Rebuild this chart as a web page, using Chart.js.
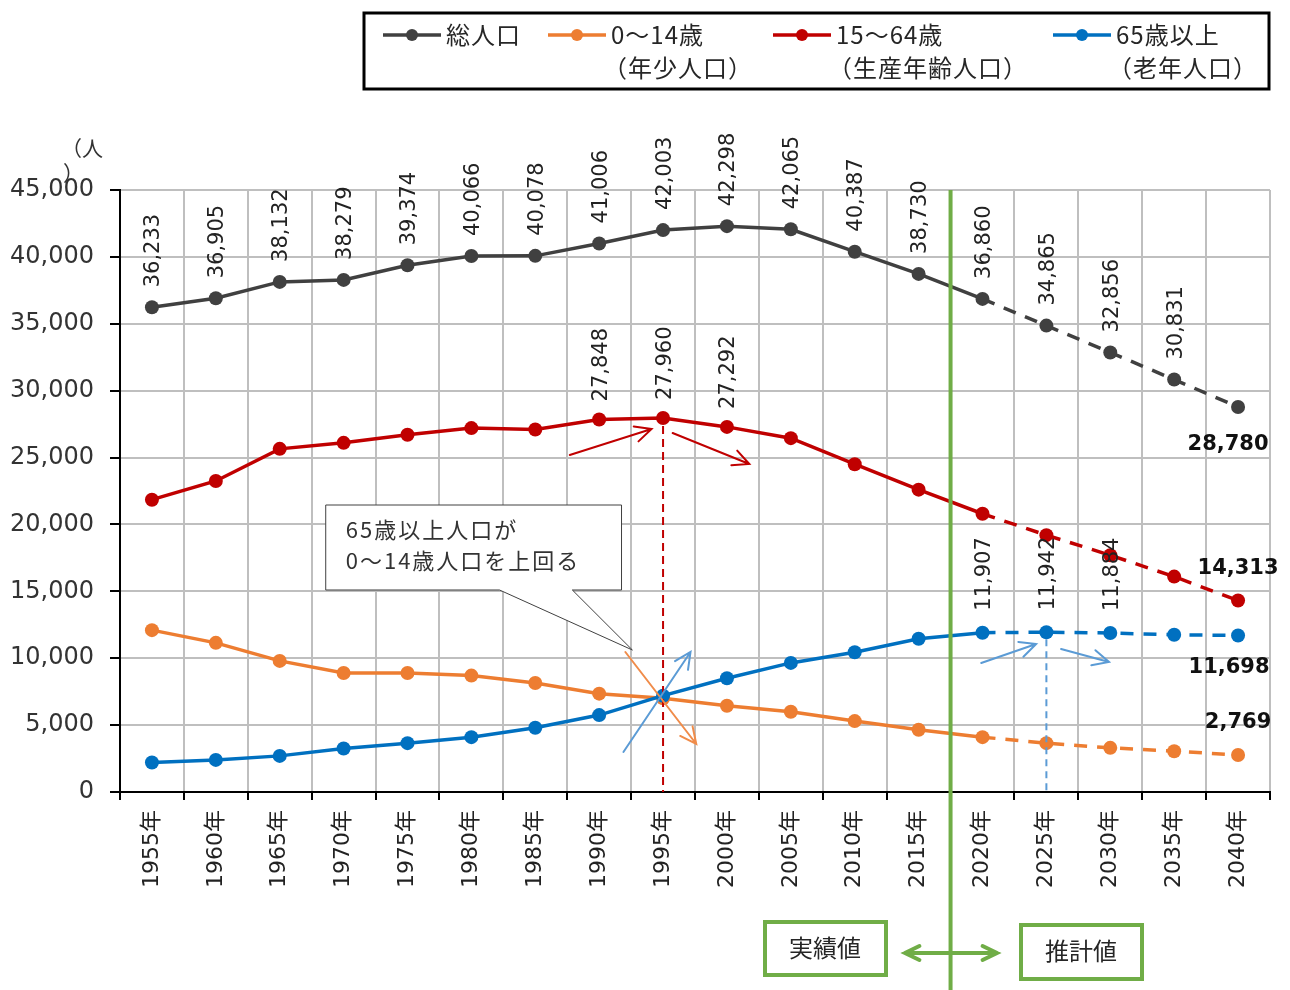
<!DOCTYPE html>
<html lang="ja">
<head>
<meta charset="utf-8">
<script src="https://cdn.jsdelivr.net/npm/chart.js@4.4.1/dist/chart.umd.min.js"></script>
<style>
  html, body { margin: 0; padding: 0; background: #fff; }
  #wrap { position: relative; width: 1290px; height: 990px; }
</style>
</head>
<body>
<div id="wrap"><canvas id="chart" width="1290" height="990"></canvas></div>
<script>
// categories and series
const years = ['1955年', '1960年', '1965年', '1970年', '1975年', '1980年', '1985年', '1990年', '1995年',
  '2000年', '2005年', '2010年', '2015年', '2020年', '2025年', '2030年', '2035年', '2040年'];
const totalPop = [36233, 36905, 38132, 38279, 39374, 40066, 40078, 41006, 42003,
  42298, 42065, 40387, 38730, 36860, 34865, 32856, 30831, 28780];
const youngPop = [12100, 11150, 9800, 8900, 8900, 8700, 8150, 7350, 7000,
  6450, 6000, 5300, 4650, 4100, 3650, 3300, 3050, 2769];
const workingPop = [21850, 23250, 25650, 26100, 26700, 27200, 27100, 27848, 27960,
  27292, 26450, 24500, 22600, 20800, 19200, 17700, 16100, 14313];
const elderlyPop = [2200, 2400, 2700, 3250, 3650, 4100, 4800, 5750, 7200,
  8500, 9650, 10450, 11450, 11907, 11942, 11884, 11750, 11698];

// y axis ticks
const yMin = 0;
const yMax = 45000;
const yStep = 5000;

// which points get a value label
const totalLabelIdx = [0, 1, 2, 3, 4, 5, 6, 7, 8, 9, 10, 11, 12, 13, 14, 15, 16];
const workingLabelIdx = [7, 8, 9];
const elderlyLabelIdx = [13, 14, 15];
const lastIdx = years.length - 1;
const firstForecastIdx = 13; // 2020 onward dashed

const NUM_FONT = "'DejaVu Sans', 'Noto Sans CJK JP'";
const JP_FONT = "'Noto Sans CJK JP', 'DejaVu Sans'";

const fmt = v => v.toLocaleString('en-US');

// open arrow head line
function arrow(ctx, x1, y1, x2, y2, color, width, head) {
    const a = Math.atan2(y2 - y1, x2 - x1);
    ctx.save();
    ctx.strokeStyle = color;
    ctx.lineWidth = width;
    ctx.lineCap = 'round';
    ctx.beginPath();
    ctx.moveTo(x1, y1);
    ctx.lineTo(x2, y2);
    ctx.moveTo(x2 - head * Math.cos(a - 0.45), y2 - head * Math.sin(a - 0.45));
    ctx.lineTo(x2, y2);
    ctx.lineTo(x2 - head * Math.cos(a + 0.45), y2 - head * Math.sin(a + 0.45));
    ctx.stroke();
    ctx.restore();
}

// annotations: labels, arrows, callout, legend, bottom boxes
const extras = {
    id: 'extras',
    afterDatasetsDraw(chart) {
        const ctx = chart.ctx;
        const xs = chart.scales.x;
        const ys = chart.scales.y;
        const X = i => xs.getPixelForValue(i);
        const Y = v => ys.getPixelForValue(v);
        const area = chart.chartArea;

        // vertical dashed marker lines
        ctx.save();
        ctx.lineWidth = 2;
        ctx.setLineDash([8, 5]);
        ctx.strokeStyle = '#c00000';
        ctx.beginPath();
        ctx.moveTo(X(8), Y(workingPop[8]) + 8);
        ctx.lineTo(X(8), Y(0));
        ctx.stroke();
        ctx.strokeStyle = '#5b9bd5';
        ctx.setLineDash([7, 5]);
        ctx.beginPath();
        ctx.moveTo(X(14), Y(elderlyPop[14]) + 7);
        ctx.lineTo(X(14), Y(0));
        ctx.stroke();
        ctx.restore();

        // green border between actual and forecast
        ctx.save();
        ctx.strokeStyle = '#70ad47';
        ctx.lineWidth = 4;
        ctx.beginPath();
        ctx.moveTo(X(12.5), area.top);
        ctx.lineTo(X(12.5), 990);
        ctx.stroke();
        ctx.restore();

        // arrows
        arrow(ctx, X(6.54), Y(25190), X(7.82), Y(27134), '#c00000', 2, 18);
        arrow(ctx, X(8.15), Y(26835), X(9.35), Y(24518), '#c00000', 2, 18);
        arrow(ctx, X(7.41), Y(10465), X(8.52), Y(3588), '#f08c4a', 2, 18);
        arrow(ctx, X(7.38), Y(2990), X(8.43), Y(10465), '#5b9bd5', 2, 18);
        arrow(ctx, X(12.98), Y(9643), X(13.84), Y(11063), '#5b9bd5', 2, 18);
        arrow(ctx, X(14.23), Y(10689), X(14.98), Y(9717), '#5b9bd5', 2, 18);

        // callout box
        const bl = X(2.72), br = X(7.35), bt = Y(21453), bb = Y(15100);
        ctx.save();
        ctx.fillStyle = '#fff';
        ctx.strokeStyle = '#404040';
        ctx.lineWidth = 1;
        ctx.beginPath();
        ctx.moveTo(bl, bt);
        ctx.lineTo(br, bt);
        ctx.lineTo(br, bb);
        ctx.lineTo(X(6.58), bb);
        ctx.lineTo(X(7.52), Y(10614));
        ctx.lineTo(X(5.44), bb);
        ctx.lineTo(bl, bb);
        ctx.closePath();
        ctx.fill();
        ctx.stroke();
        ctx.fillStyle = '#333';
        ctx.font = '22px ' + JP_FONT;
        ctx.letterSpacing = '2px';
        ctx.textBaseline = 'middle';
        ctx.textAlign = 'left';
        ctx.fillText('65歳以上人口が', bl + 20, bt + 25);
        ctx.fillText('0〜14歳人口を上回る', bl + 20, bt + 56);
        ctx.restore();

        // rotated value labels
        ctx.save();
        ctx.fillStyle = '#222';
        ctx.font = '21px ' + NUM_FONT;
        ctx.textAlign = 'left';
        ctx.textBaseline = 'middle';
        const rotLabel = (data, idx, gap) => {
            idx.forEach(i => {
                ctx.save();
                ctx.translate(X(i) + 2, Y(data[i]) - gap);
                ctx.rotate(-Math.PI / 2);
                ctx.fillText(fmt(data[i]), 0, 0);
                ctx.restore();
            });
        };
        rotLabel(totalPop, totalLabelIdx, 20);
        rotLabel(workingPop, workingLabelIdx, 18);
        rotLabel(elderlyPop, elderlyLabelIdx, 22);
        ctx.restore();

        // bold end labels
        ctx.save();
        ctx.fillStyle = '#111';
        ctx.font = 'bold 21px ' + NUM_FONT;
        ctx.textAlign = 'center';
        ctx.textBaseline = 'middle';
        ctx.fillText(fmt(totalPop[lastIdx]), X(lastIdx) - 10, Y(totalPop[lastIdx]) + 38);
        ctx.fillText(fmt(workingPop[lastIdx]), X(lastIdx), Y(workingPop[lastIdx]) - 32);
        ctx.fillText(fmt(elderlyPop[lastIdx]), X(lastIdx) - 9, Y(elderlyPop[lastIdx]) + 32);
        ctx.fillText(fmt(youngPop[lastIdx]), X(lastIdx), Y(youngPop[lastIdx]) - 32);
        ctx.restore();

        // unit label
        ctx.save();
        ctx.fillStyle = '#333';
        ctx.font = '21px ' + JP_FONT;
        ctx.textBaseline = 'middle';
        ctx.fillText('（人', 61, 148);
        ctx.fillText('）', 63, 173);
        ctx.restore();

        // legend
        ctx.save();
        ctx.strokeStyle = '#000';
        ctx.lineWidth = 3;
        ctx.strokeRect(364, 13, 905, 76);
        const legendItems = [
            { color: '#404040', x: 383, l1: '総人口', l2: '' },
            { color: '#ed7d31', x: 548, l1: '0〜14歳', l2: '（年少人口）' },
            { color: '#c00000', x: 773, l1: '15〜64歳', l2: '（生産年齢人口）' },
            { color: '#0070c0', x: 1053, l1: '65歳以上', l2: '（老年人口）' }
        ];
        ctx.font = '24px ' + JP_FONT;
        ctx.letterSpacing = '1px';
        ctx.textBaseline = 'middle';
        legendItems.forEach(it => {
            ctx.strokeStyle = it.color;
            ctx.fillStyle = it.color;
            ctx.lineWidth = 3.5;
            ctx.beginPath();
            ctx.moveTo(it.x, 35);
            ctx.lineTo(it.x + 58, 35);
            ctx.stroke();
            ctx.beginPath();
            ctx.arc(it.x + 29, 35, 6, 0, Math.PI * 2);
            ctx.fill();
            ctx.fillStyle = '#262626';
            ctx.fillText(it.l1, it.x + 63, 35);
            if (it.l2) ctx.fillText(it.l2, it.x + 55, 68);
        });
        ctx.restore();

        // actual / forecast boxes
        ctx.save();
        ctx.strokeStyle = '#70ad47';
        ctx.lineWidth = 4;
        ctx.strokeRect(765, 922, 121, 53);
        ctx.strokeRect(1021, 925, 121, 54);
        arrow(ctx, 951, 953, 905, 953, '#70ad47', 4, 16);
        arrow(ctx, 951, 953, 997, 953, '#70ad47', 4, 16);
        ctx.fillStyle = '#262626';
        ctx.font = '24px ' + JP_FONT;
        ctx.textAlign = 'center';
        ctx.textBaseline = 'middle';
        ctx.fillText('実績値', 825, 948);
        ctx.fillText('推計値', 1081, 951);
        ctx.restore();
    }
};

const dashAfter = c => c.p0DataIndex >= firstForecastIdx ? [13, 10] : undefined;

function series(label, data, color, order) {
    return {
        label: label,
        data: data,
        borderColor: color,
        backgroundColor: color,
        pointBackgroundColor: color,
        pointBorderColor: color,
        borderWidth: 3.5,
        pointRadius: 7,
        pointBorderWidth: 0,
        tension: 0,
        order: order,
        segment: { borderDash: dashAfter }
    };
}

new Chart(document.getElementById('chart'), {
    type: 'line',
    data: {
        labels: years,
        datasets: [
            series('総人口', totalPop, '#404040', 3),
            series('0〜14歳', youngPop, '#ed7d31', 2),
            series('15〜64歳', workingPop, '#c00000', 1),
            series('65歳以上', elderlyPop, '#0070c0', 0)
        ]
    },
    options: {
        responsive: false,
        animation: false,
        devicePixelRatio: 1,
        layout: { padding: { top: 190, right: 20, bottom: 0, left: 0 } },
        plugins: {
            legend: { display: false },
            tooltip: { enabled: false }
        },
        scales: {
            x: {
                offset: true,
                grid: { offset: true, color: '#bfbfbf', lineWidth: 2, tickColor: '#000', tickLength: 8 },
                border: { color: '#000', width: 2 },
                ticks: {
                    autoSkip: false,
                    minRotation: 90,
                    maxRotation: 90,
                    padding: 10,
                    color: '#222',
                    font: { family: NUM_FONT, size: 22 }
                },
                afterFit: s => { s.height = 198; }
            },
            y: {
                min: yMin,
                max: yMax,
                grid: { color: '#bfbfbf', lineWidth: 2, tickColor: '#000', tickLength: 10 },
                border: { color: '#000', width: 2 },
                ticks: {
                    stepSize: yStep,
                    padding: 16,
                    color: '#333',
                    font: { family: NUM_FONT, size: 24 },
                    callback: v => fmt(v)
                },
                afterFit: s => { s.width = 120; }
            }
        }
    },
    plugins: [extras]
});
</script>
</body>
</html>
